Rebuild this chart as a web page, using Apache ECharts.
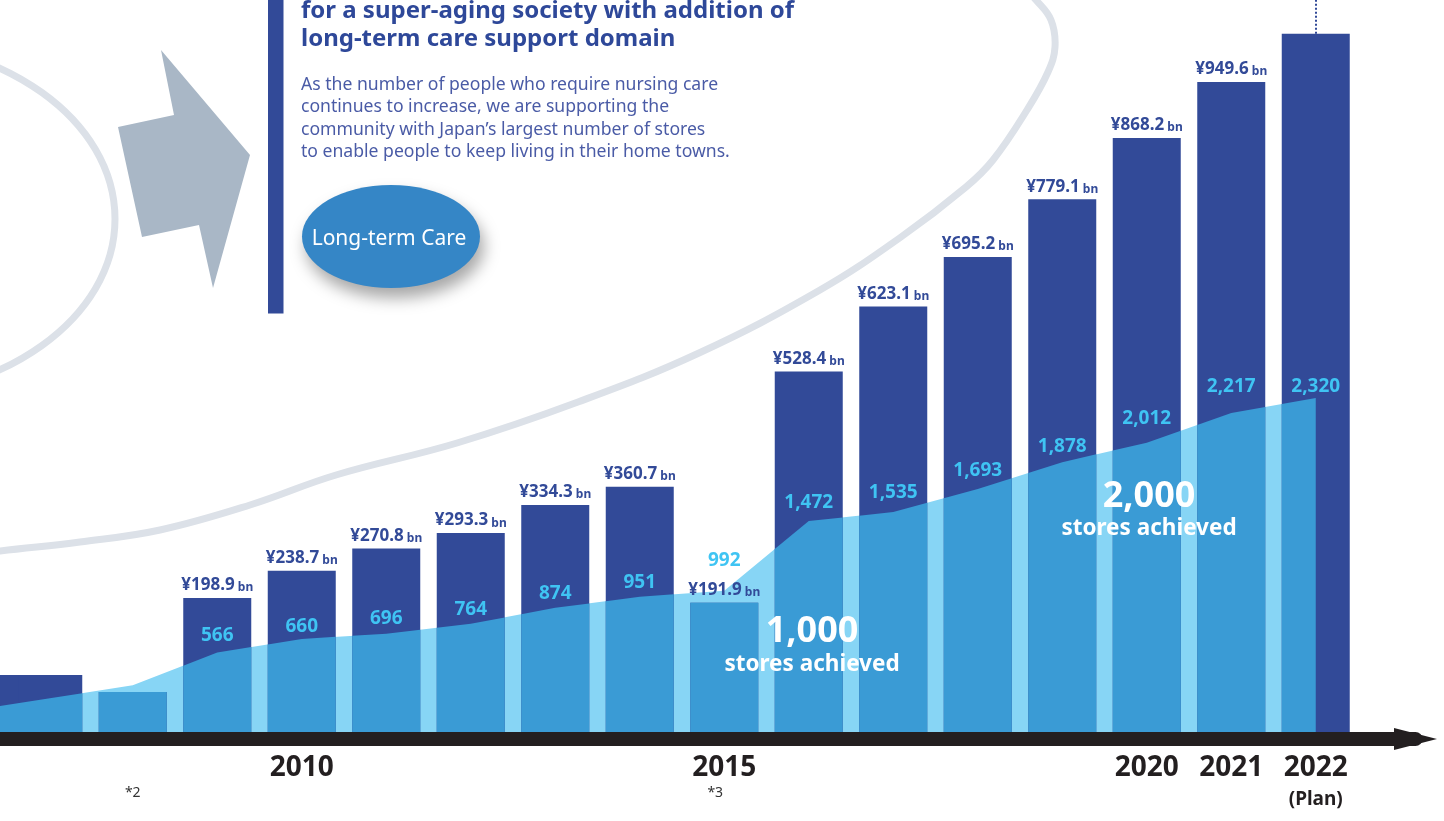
<!DOCTYPE html>
<html>
<head>
<meta charset="utf-8">
<style>
  html, body { margin: 0; padding: 0; background: #ffffff; }
  #chart { width: 1444px; height: 821px; }
</style>
<script src="https://cdn.jsdelivr.net/npm/echarts@6/dist/echarts.min.js"></script>
</head>
<body>
<div id="chart"></div>
<script>
// ---------------- data ----------------
const categories = ['2007','2008','2009','2010','2011','2012','2013','2014','2015','2016','2017','2018','2019','2020','2021','2022'];
// net sales (¥ bn); 2007, 2008 and 2022 are read from bar heights (no printed label)
const revenue = [86.8, 62, 198.9, 238.7, 270.8, 293.3, 334.3, 360.7, 191.9, 528.4, 623.1, 695.2, 779.1, 868.2, 949.6, 1020];
const revenueLabels = ['', '', '¥198.9', '¥238.7', '¥270.8', '¥293.3', '¥334.3', '¥360.7', '¥191.9', '¥528.4', '¥623.1', '¥695.2', '¥779.1', '¥868.2', '¥949.6', ''];
// number of stores; 2007 and 2008 are read from the area height (no printed label)
const stores = [250, 340, 566, 660, 696, 764, 874, 951, 992, 1472, 1535, 1693, 1878, 2012, 2217, 2320];
const storeLabels = ['', '', '566', '660', '696', '764', '874', '951', '992', '1,472', '1,535', '1,693', '1,878', '2,012', '2,217', '2,320'];
const yearLabels = ['', '', '', '2010', '', '', '', '', '2015', '', '', '', '', '2020', '2021', '2022'];
const yearNotes = ['', '*2', '', '', '', '', '', '', '*3', '', '', '', '', '', '', '(Plan)'];

const titleLines = ['for a super-aging society with addition of', 'long-term care support domain'];
const bodyLines = [
  'As the number of people who require nursing care',
  'continues to increase, we are supporting the',
  'community with Japan\u2019s largest number of stores',
  'to enable people to keep living in their home towns.'
];
const badgeText = 'Long-term Care';
const milestone1 = ['1,000', 'stores achieved'];
const milestone2 = ['2,000', 'stores achieved'];

// ---------------- layout / style constants ----------------
const FONT = '"Noto Sans", "Open Sans", sans-serif';
const DARK = '#324A98';
const MID = '#3A9BD5';
const LIGHT = '#87D5F5';
const CYAN = '#3FC4F3';
const AXIS_BLACK = '#231F20';
const BAR_WIDTH = 68;
const REV_MAX = 1069;
const STORE_MAX = 5063;
const STORE_LABEL_DY = [0, 0, -2, 3, 0, 1, 1, 1, -15, -4, -4, -3, -1, -9, -11, 4];

// ---------------- helpers ----------------
function clipBelow(poly, yT) {
  const out = [];
  for (let k = 0; k < poly.length; k++) {
    const p = poly[k], q = poly[(k + 1) % poly.length];
    const pin = p[1] >= yT, qin = q[1] >= yT;
    if (pin) out.push(p);
    if (pin !== qin) {
      const t = (yT - p[1]) / (q[1] - p[1]);
      out.push([p[0] + t * (q[0] - p[0]), yT]);
    }
  }
  return out;
}

function renderOverlay(params, api) {
  const i = params.dataIndex;
  const pts = categories.map((c, j) => api.coord([j, stores[j]]));
  const n = pts.length;
  const yAt = x => {
    let a = pts[0], b = pts[1];
    if (x >= pts[n - 1][0]) { a = pts[n - 2]; b = pts[n - 1]; }
    else if (x > pts[0][0]) {
      for (let j = 0; j < n - 1; j++) { if (x <= pts[j + 1][0]) { a = pts[j]; b = pts[j + 1]; break; } }
    }
    return a[1] + (b[1] - a[1]) * (x - a[0]) / (b[0] - a[0]);
  };
  const cx = pts[i][0];
  const base = api.coord([i, 0])[1];
  const topY = api.coord([i, revenue[i] * STORE_MAX / REV_MAX])[1];
  const half = BAR_WIDTH / 2;
  const xl = i === 0 ? 0 : cx - half;          // first bar is cut by the left edge
  const xr = Math.min(cx + half, pts[n - 1][0]);
  const children = [];
  if (i === 0 && cx - half > 0) {
    children.push({ type: 'rect', shape: { x: 0, y: topY, width: cx - half + 4, height: base - topY }, style: { fill: DARK } });
  }
  if (xr > xl) {
    const poly = [[xl, base], [xl, yAt(xl)]];
    for (let j = 0; j < n; j++) { if (pts[j][0] > xl && pts[j][0] < xr) poly.push(pts[j]); }
    poly.push([xr, yAt(xr)], [xr, base]);
    const clipped = clipBelow(poly, topY);
    if (clipped.length >= 3) children.push({ type: 'polygon', shape: { points: clipped }, style: { fill: MID } });
  }
  return { type: 'group', children };
}

// ---------------- decorations ----------------
const bigArc = [[-10,553],[0,551],[80,542],[160,530],[250,505],[336,475],[457,443],[578,402],[699,353],[820,290],[901,237],[966,187],[993,160],[1027,110],[1048,72],[1055,47],[1051,20],[1036,0],[1026,-10]];
const arrowShape = [[118,127],[174,115],[161,50],[250,155],[213,288],[199,225],[142,237]];

const graphics = [
  { type: 'polyline', z: 0, silent: true, shape: { points: bigArc, smooth: 0.4 }, style: { stroke: '#DCE1E8', lineWidth: 7, fill: null } },
  { type: 'ellipse', z: 0, silent: true, shape: { cx: -135, cy: 219, rx: 250, ry: 179 }, style: { stroke: '#DCE1E8', lineWidth: 7, fill: null } },
  { type: 'polygon', z: 0, silent: true, shape: { points: arrowShape }, style: { fill: '#A9B7C6' } },
  { type: 'rect', z: 0, silent: true, shape: { x: 268, y: 0, width: 15.5, height: 313.5 }, style: { fill: DARK } },
  { type: 'text', z: 10, silent: true, style: { x: 301, y: 11.5, text: titleLines[0], font: 'bold 24px ' + FONT, fill: '#2E4899', align: 'left', verticalAlign: 'middle' } },
  { type: 'text', z: 10, silent: true, style: { x: 301, y: 39.5, text: titleLines[1], font: 'bold 24px ' + FONT, fill: '#2E4899', align: 'left', verticalAlign: 'middle' } },
  ...bodyLines.map((t, k) => ({ type: 'text', z: 10, silent: true, style: { x: 301, y: 84.5 + k * 22.6, text: t, font: '17.6px ' + FONT, fill: '#4A5BA6', align: 'left', verticalAlign: 'middle' } })),
  { type: 'ellipse', z: 5, silent: true, shape: { cx: 391, cy: 236.5, rx: 89, ry: 51.5 }, style: { fill: '#3586C6', shadowBlur: 16, shadowColor: 'rgba(0,0,0,0.35)', shadowOffsetX: 4, shadowOffsetY: 10 } },
  { type: 'text', z: 10, silent: true, style: { x: 389, y: 239, text: badgeText, font: '21px ' + FONT, fill: '#ffffff', align: 'center', verticalAlign: 'middle' } },
  { type: 'text', z: 100, silent: true, style: { x: 812, y: 632, text: milestone1[0], font: 'bold 36px ' + FONT, fill: '#ffffff', align: 'center', verticalAlign: 'middle' } },
  { type: 'text', z: 100, silent: true, style: { x: 812, y: 665, text: milestone1[1], font: 'bold 22.5px ' + FONT, fill: '#ffffff', align: 'center', verticalAlign: 'middle' } },
  { type: 'text', z: 100, silent: true, style: { x: 1149, y: 497, text: milestone2[0], font: 'bold 36px ' + FONT, fill: '#ffffff', align: 'center', verticalAlign: 'middle' } },
  { type: 'text', z: 100, silent: true, style: { x: 1149, y: 529, text: milestone2[1], font: 'bold 22.5px ' + FONT, fill: '#ffffff', align: 'center', verticalAlign: 'middle' } }
];

// ---------------- chart ----------------
const chart = echarts.init(document.getElementById('chart'), null, { renderer: 'canvas' });

const option = {
  animation: false,
  backgroundColor: '#ffffff',
  textStyle: { fontFamily: FONT },
  grid: [
    { left: 6, right: 86, top: 0, bottom: 86.3, outerBoundsMode: 'none', containLabel: false },
    { left: 0, right: 28.5, top: 700, bottom: 82, outerBoundsMode: 'none', containLabel: false }
  ],
  xAxis: [
    {
      type: 'category', gridIndex: 0, data: categories, boundaryGap: true,
      axisLine: { show: false }, axisTick: { show: false }, splitLine: { show: false },
      axisLabel: {
        interval: 0, margin: 18,
        formatter: (v, i) => {
          const y = yearLabels[i];
          const note = yearNotes[i];
          if (!note) return y ? '{y|' + y + '}' : '';
          const st = note === '(Plan)' ? 'p' : (note === '*3' ? 'm' : 'n');
          return '{y|' + (y || ' ') + '}\n{' + st + '|' + note + '}';
        },
        rich: {
          y: { fontSize: 28, fontWeight: 'bold', color: AXIS_BLACK, lineHeight: 30, fontFamily: FONT },
          n: { fontSize: 14, color: '#333333', lineHeight: 20, fontFamily: FONT },
          m: { fontSize: 14, color: '#333333', lineHeight: 20, fontFamily: FONT, padding: [0, 18, 0, 0] },
          p: { fontSize: 19, fontWeight: 'bold', color: AXIS_BLACK, lineHeight: 34, fontFamily: FONT }
        }
      }
    },
    {
      type: 'value', gridIndex: 1, min: 0, max: 1, z: 10,
      axisLine: { show: true, onZero: false, symbol: ['none', 'triangle'], symbolSize: [22, 43], lineStyle: { color: AXIS_BLACK, width: 14 } },
      axisTick: { show: false }, axisLabel: { show: false }, splitLine: { show: false }
    }
  ],
  yAxis: [
    { type: 'value', gridIndex: 0, min: 0, max: REV_MAX, show: false, splitLine: { show: false } },
    { type: 'value', gridIndex: 0, min: 0, max: STORE_MAX, show: false, splitLine: { show: false } },
    { type: 'value', gridIndex: 1, min: 0, max: 1, show: false, splitLine: { show: false } }
  ],
  series: [
    {
      name: 'Stores area', type: 'line', xAxisIndex: 0, yAxisIndex: 1, z: 1, silent: true,
      data: stores, symbol: 'none', lineStyle: { width: 0 },
      areaStyle: { color: LIGHT, opacity: 1 }
    },
    {
      name: 'Net sales', type: 'bar', xAxisIndex: 0, yAxisIndex: 0, z: 2, silent: true,
      data: revenue, barWidth: BAR_WIDTH, itemStyle: { color: DARK, borderWidth: 0 },
      label: {
        show: true, position: 'top', distance: 4,
        formatter: p => revenueLabels[p.dataIndex] ? '{a|' + revenueLabels[p.dataIndex] + '} {b|bn}' : '',
        rich: {
          a: { fontSize: 17, fontWeight: 'bold', color: DARK, lineHeight: 20, fontFamily: FONT, verticalAlign: 'bottom' },
          b: { fontSize: 12, fontWeight: 'bold', color: DARK, lineHeight: 16, fontFamily: FONT, verticalAlign: 'bottom' }
        }
      },
      markLine: {
        silent: true, symbol: ['none', 'none'], label: { show: false },
        lineStyle: { type: 'dotted', color: DARK, width: 2 },
        data: [[{ coord: [categories[15], revenue[15]] }, { coord: [categories[15], REV_MAX] }]]
      }
    },
    {
      name: 'Overlay', type: 'custom', xAxisIndex: 0, yAxisIndex: 1, z: 3, silent: true, clip: false,
      data: categories.map((c, i) => [i, stores[i]]),
      encode: { x: 0, y: 1 },
      renderItem: renderOverlay
    },
    {
      name: 'Stores', type: 'scatter', xAxisIndex: 0, yAxisIndex: 1, z: 5, silent: true,
      symbolSize: 1, itemStyle: { color: 'rgba(0,0,0,0)', opacity: 1 },
      data: stores.map((v, i) => ({ value: v, label: { offset: [0, STORE_LABEL_DY[i]] } })),
      label: {
        show: true, position: 'top', distance: 5, opacity: 1,
        formatter: p => storeLabels[p.dataIndex],
        color: CYAN, fontSize: 19, fontWeight: 'bold', fontFamily: FONT
      }
    }
  ],
  graphic: graphics
};

chart.setOption(option);
</script>
</body>
</html>
